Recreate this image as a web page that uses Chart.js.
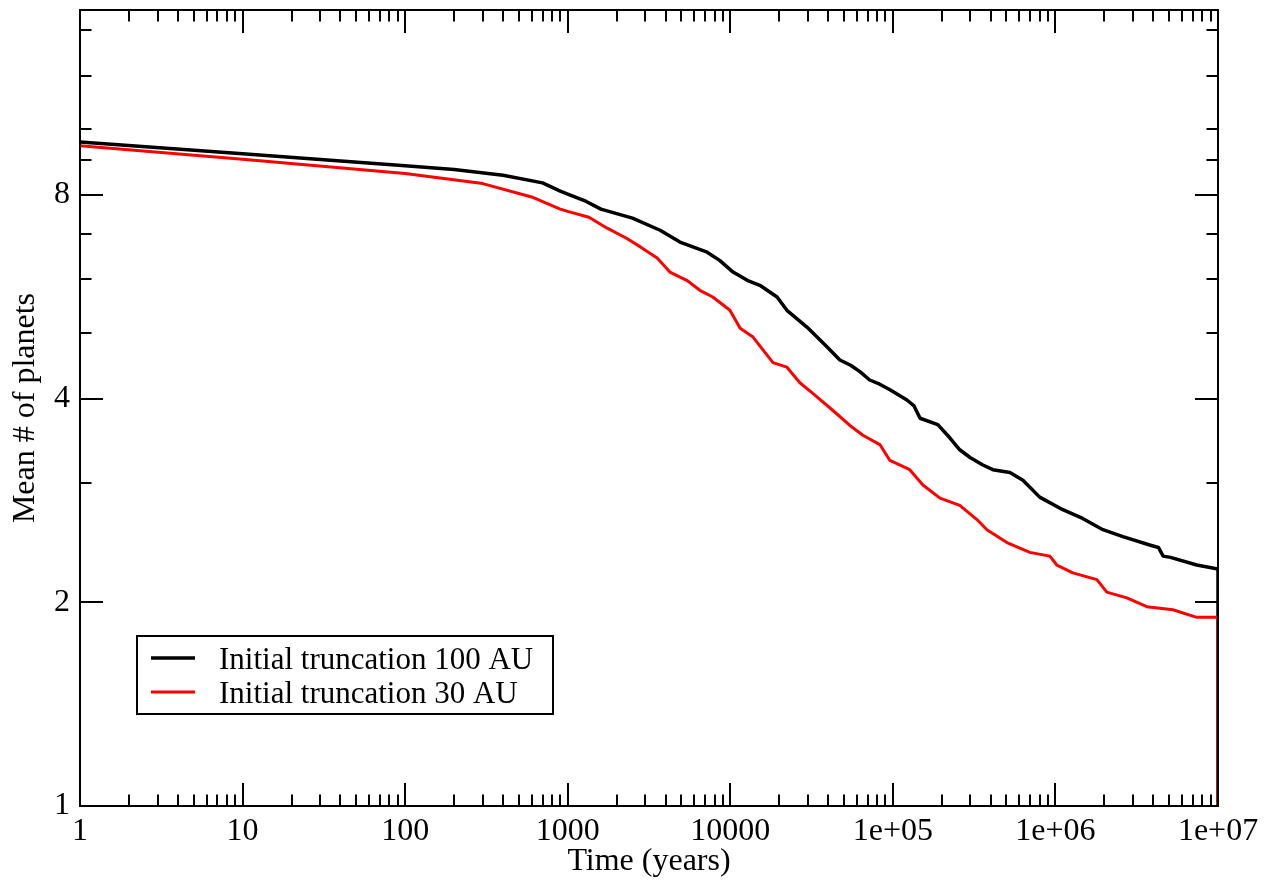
<!DOCTYPE html>
<html>
<head>
<meta charset="utf-8">
<script src="https://cdn.jsdelivr.net/npm/chart.js@4.4.1/dist/chart.umd.min.js"></script>
<style>
html,body{margin:0;padding:0;background:#fff;}
#wrap{width:1273px;height:884px;position:relative;}
</style>
</head>
<body>
<div id="wrap"><canvas id="c" width="1273" height="884"></canvas></div>
<script>
// ---- Data ----
const years100 = [1, 10, 100, 200, 400, 700, 900, 1000, 1300, 1600, 2500, 3700, 4900, 7200, 8600,
  10400, 12700, 15200, 19400, 22300, 29600, 39300, 47200, 55000, 63000, 72000, 83000, 96000,
  122000, 135000, 147000, 189000, 224000, 258000, 300000, 358000, 412000, 525000, 631000, 800000,
  1110000, 1470000, 1960000, 2600000, 3800000, 4300000, 4600000, 5100000, 7400000, 10000000, 10000000];
const planets100 = [9.57, 9.2, 8.83, 8.72, 8.55, 8.33, 8.1, 8.02, 7.82, 7.62, 7.39, 7.09, 6.81, 6.58, 6.40,
  6.15, 5.98, 5.88, 5.65, 5.40, 5.10, 4.77, 4.56, 4.48, 4.38, 4.26, 4.20, 4.12,
  3.98, 3.90, 3.74, 3.66, 3.50, 3.36, 3.27, 3.19, 3.14, 3.11, 3.03, 2.86,
  2.74, 2.66, 2.56, 2.50, 2.43, 2.41, 2.34, 2.33, 2.27, 2.24, 0.5];

const years30 = [1, 10, 100, 300, 600, 900, 1000, 1350, 1750, 2300, 2800, 3550, 4250, 5400, 6500, 7800,
  9950, 11500, 13800, 18300, 22300, 26800, 32200, 42800, 54400, 65400, 83200, 95900, 127000, 153000,
  195000, 258000, 329000, 379000, 503000, 696000, 924000, 1020000, 1280000, 1800000, 2070000,
  2750000, 3650000, 5280000, 7410000, 10000000, 10000000];
const planets30 = [9.45, 9.03, 8.6, 8.31, 7.94, 7.62, 7.56, 7.41, 7.14, 6.90, 6.70, 6.45, 6.15, 5.98, 5.78, 5.65,
  5.40, 5.08, 4.93, 4.52, 4.45, 4.22, 4.07, 3.84, 3.65, 3.53, 3.42, 3.24, 3.14, 2.98,
  2.85, 2.78, 2.65, 2.56, 2.45, 2.37, 2.34, 2.27, 2.21, 2.16, 2.07,
  2.03, 1.97, 1.95, 1.90, 1.90, 0.5];

const seriesLabels = ['Initial truncation 100 AU', 'Initial truncation 30 AU'];
const seriesColors = ['#000000', '#ff0000'];

const xMajorTicks = [1, 10, 100, 1000, 10000, 100000, 1000000, 10000000];
const xTickLabels = ['1', '10', '100', '1000', '10000', '1e+05', '1e+06', '1e+07'];
const xMinorMultipliers = [2, 3, 4, 5, 6, 7, 8, 9];
const yMajorTicks = [1, 2, 4, 8];
const yTickLabels = ['1', '2', '4', '8'];
const yMinorTicks = [3, 5, 6, 7, 9, 10, 12, 14];

const xTitle = 'Time (years)';
const yTitle = 'Mean # of planets';

// ---- Chart ----
const FONT = "'Liberation Serif', 'Times New Roman', serif";
const FS = 32;
const LEGEND_FS = 31;
Chart.defaults.font.family = FONT;
Chart.defaults.font.size = FS;
Chart.defaults.color = '#000';

const frameTicks = {
  id: 'frameTicks',
  afterDraw(chart) {
    const {ctx, chartArea: a, scales: {x, y}} = chart;
    ctx.save();
    ctx.strokeStyle = '#000';
    ctx.lineWidth = 2;
    ctx.lineCap = 'butt';
    ctx.strokeRect(a.left, a.top, a.right - a.left, a.bottom - a.top);
    const MAJ = 23, MIN = 11.5;
    const xt = (v, len) => {
      const p = Math.round(x.getPixelForValue(v));
      ctx.beginPath();
      ctx.moveTo(p, a.bottom); ctx.lineTo(p, a.bottom - len);
      ctx.moveTo(p, a.top); ctx.lineTo(p, a.top + len);
      ctx.stroke();
    };
    const yt = (v, len) => {
      const p = Math.round(y.getPixelForValue(v));
      ctx.beginPath();
      ctx.moveTo(a.left, p); ctx.lineTo(a.left + len, p);
      ctx.moveTo(a.right, p); ctx.lineTo(a.right - len, p);
      ctx.stroke();
    };
    xMajorTicks.forEach(v => xt(v, MAJ));
    xMajorTicks.slice(0, -1).forEach(d => xMinorMultipliers.forEach(m => xt(d * m, MIN)));
    yMajorTicks.forEach(v => yt(v, MAJ));
    yMinorTicks.forEach(v => yt(v, MIN));

    // legend box
    const L = {left: 137, top: 636, right: 553, bottom: 714};
    ctx.lineWidth = 2;
    ctx.strokeRect(L.left, L.top, L.right - L.left, L.bottom - L.top);
    const rows = [658, 692];
    const widths = [3.5, 3];
    ctx.font = LEGEND_FS + 'px ' + FONT;
    ctx.textAlign = 'left';
    ctx.textBaseline = 'alphabetic';
    ctx.fillStyle = '#000';
    chart.data.datasets.forEach((ds, i) => {
      ctx.strokeStyle = ds.borderColor;
      ctx.lineWidth = widths[i];
      ctx.beginPath();
      ctx.moveTo(151, rows[i]); ctx.lineTo(195, rows[i]);
      ctx.stroke();
      ctx.fillText(ds.label, 219, rows[i] + 11);
    });
    ctx.restore();
  }
};

new Chart(document.getElementById('c'), {
  type: 'line',
  data: {
    datasets: [
      {
        label: seriesLabels[0],
        data: years100.map((t, i) => ({x: t, y: planets100[i]})),
        borderColor: seriesColors[0],
        borderWidth: 3.5,
        pointRadius: 0,
        tension: 0,
        borderJoinStyle: 'round',
        order: 1
      },
      {
        label: seriesLabels[1],
        data: years30.map((t, i) => ({x: t, y: planets30[i]})),
        borderColor: seriesColors[1],
        borderWidth: 3,
        pointRadius: 0,
        tension: 0,
        borderJoinStyle: 'round',
        order: 0
      }
    ]
  },
  options: {
    responsive: false,
    animation: false,
    devicePixelRatio: 1,
    layout: {padding: {top: 10, right: 55, left: 0, bottom: 0}},
    plugins: {legend: {display: false}, tooltip: {enabled: false}},
    scales: {
      x: {
        type: 'logarithmic',
        min: 1,
        max: 10000000,
        grid: {display: false, drawTicks: false},
        border: {display: false},
        afterBuildTicks: s => { s.ticks = xMajorTicks.map(v => ({value: v})); },
        afterFit: s => { s.height = 78; s.paddingLeft = 0; s.paddingRight = 0; s.paddingTop = 0; s.paddingBottom = 0; },
        ticks: {
          autoSkip: false,
          maxRotation: 0,
          padding: 6,
          font: {size: FS},
          callback: v => xTickLabels[xMajorTicks.indexOf(v)]
        },
        title: {display: true, text: xTitle, font: {size: FS}, padding: {top: 0, bottom: 3}}
      },
      y: {
        type: 'logarithmic',
        min: 1,
        max: 15,
        grid: {display: false, drawTicks: false},
        border: {display: false},
        afterBuildTicks: s => { s.ticks = yMajorTicks.map(v => ({value: v})); },
        afterFit: s => { s.width = 80; s.paddingLeft = 0; s.paddingRight = 0; s.paddingTop = 0; s.paddingBottom = 0; },
        ticks: {
          autoSkip: false,
          padding: 10,
          font: {size: FS},
          callback: v => yTickLabels[yMajorTicks.indexOf(v)]
        },
        title: {display: true, text: yTitle, font: {size: FS}, padding: {top: 6, bottom: 0}}
      }
    }
  },
  plugins: [frameTicks]
});
</script>
</body>
</html>
